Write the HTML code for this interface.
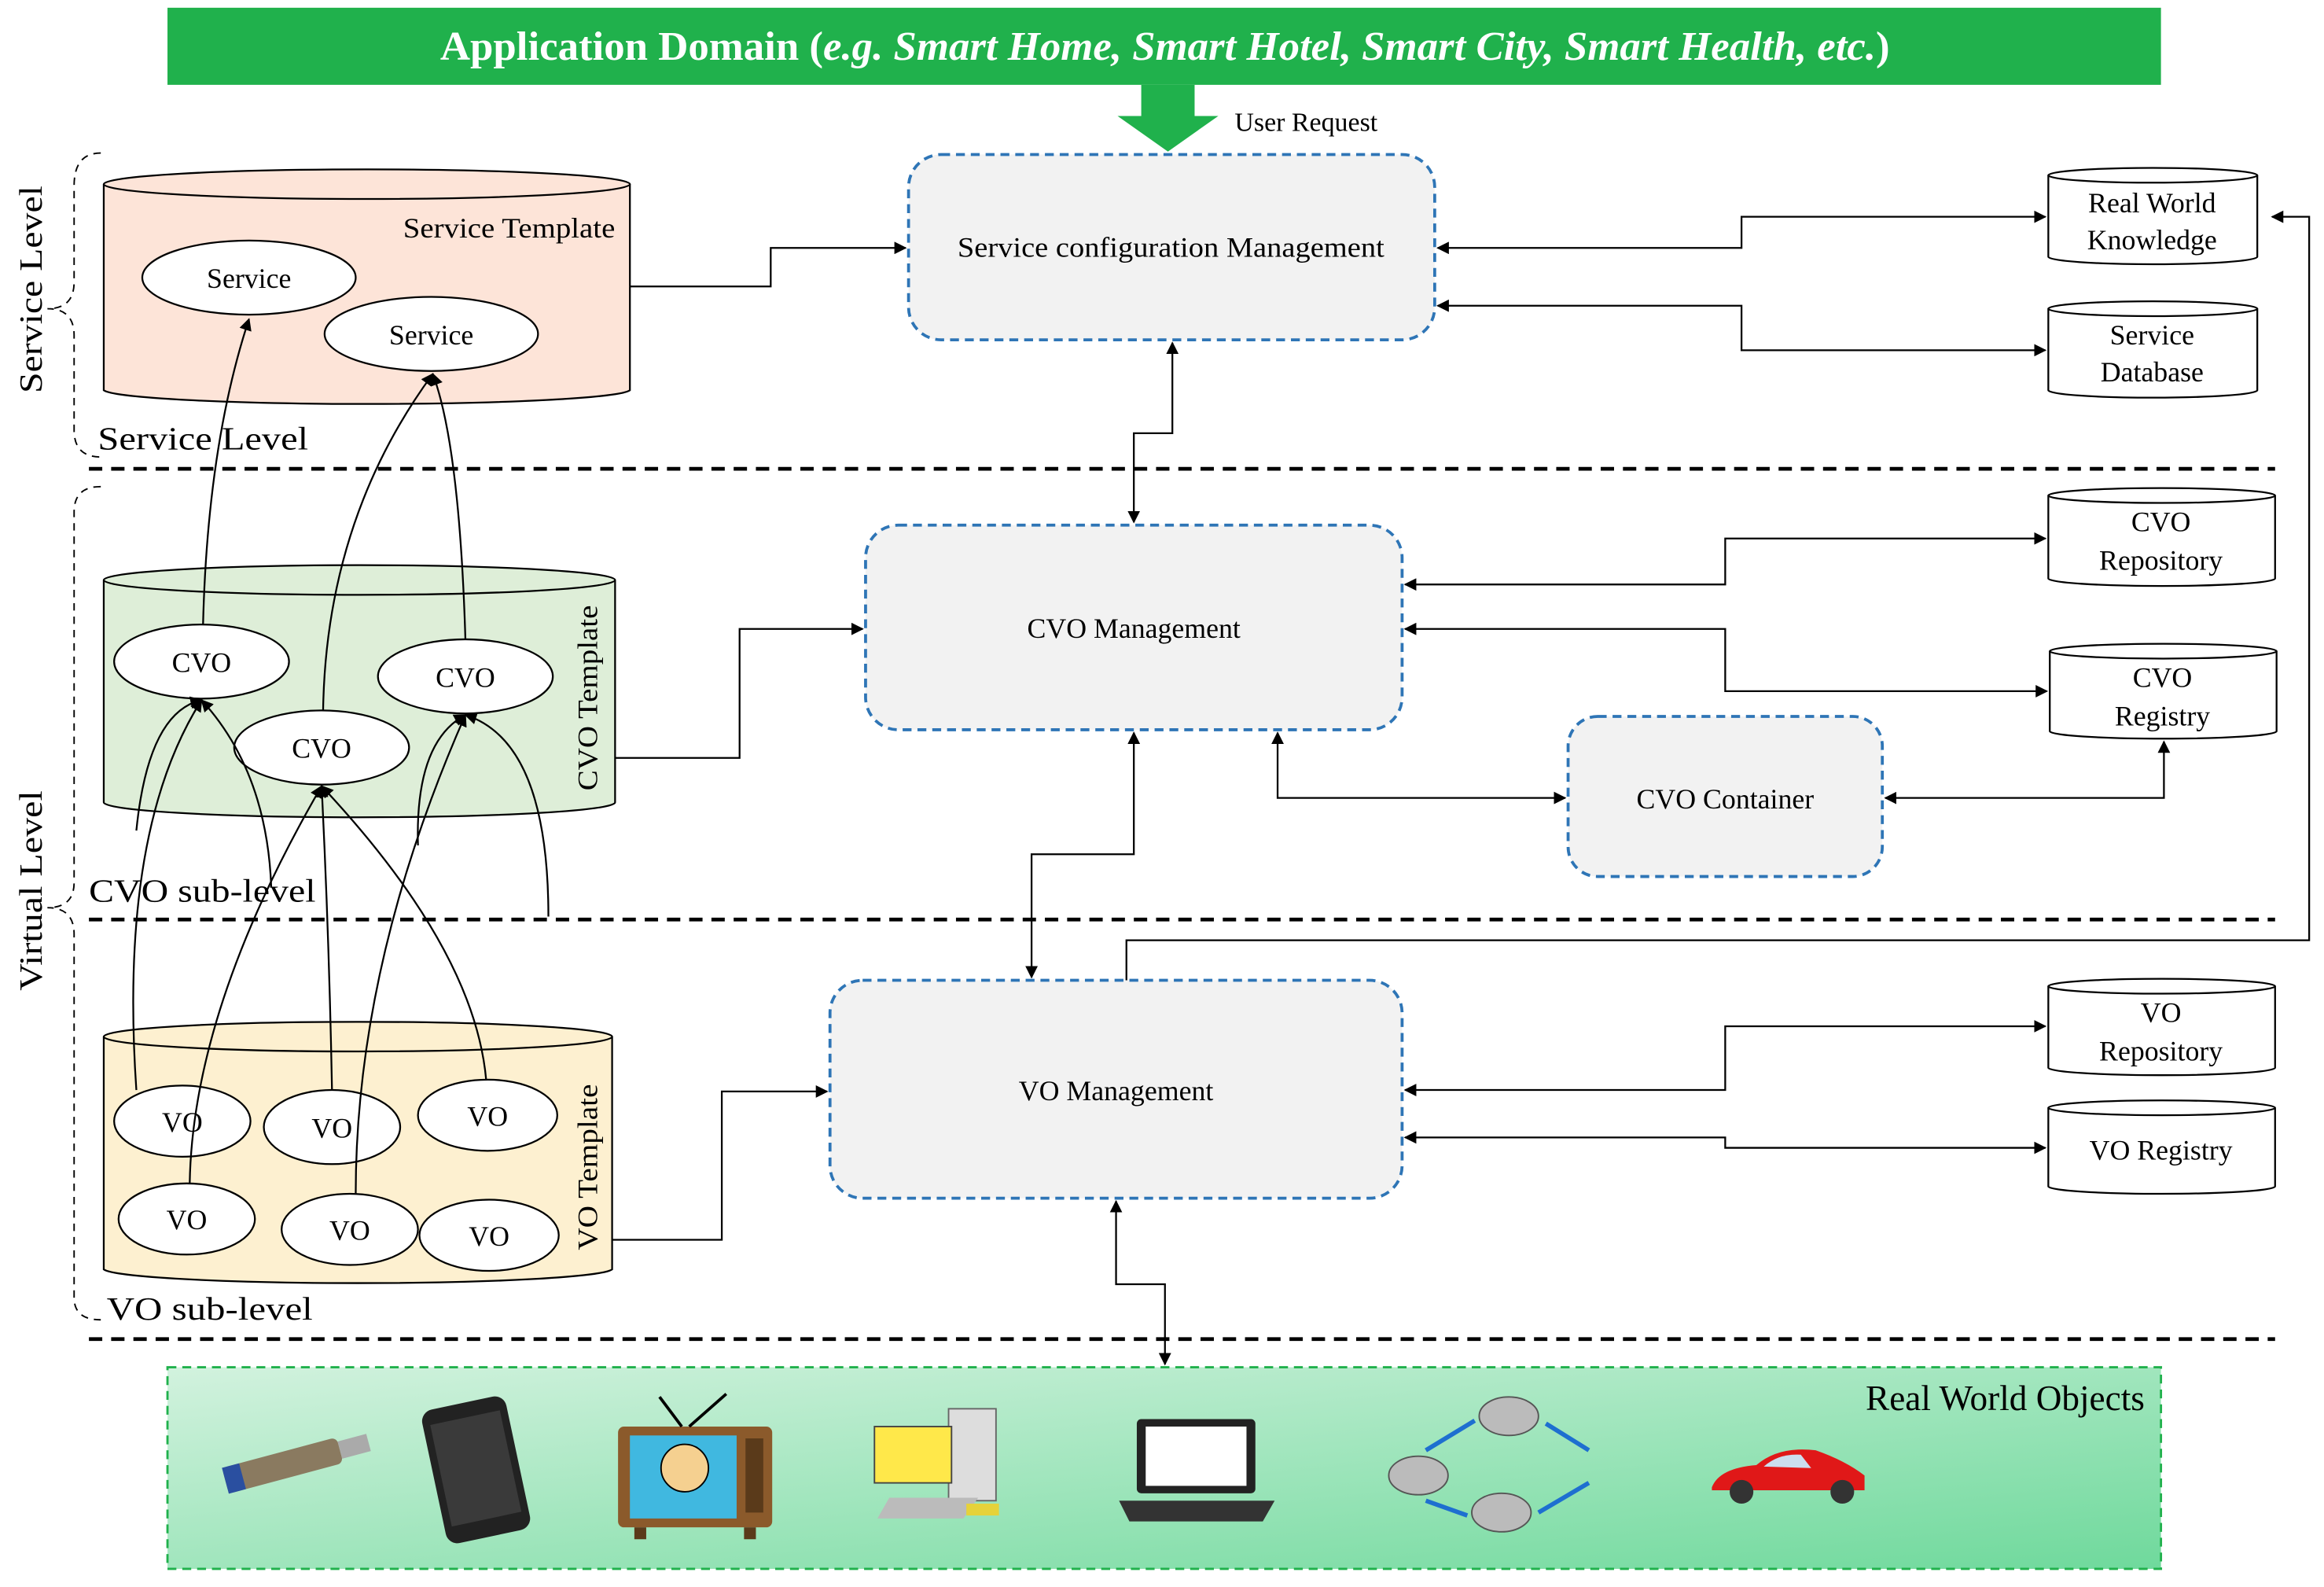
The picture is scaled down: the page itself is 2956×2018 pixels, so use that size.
<!DOCTYPE html>
<html><head><meta charset="utf-8"><style>html,body{margin:0;padding:0;background:#fff}svg{display:block}</style></head><body>
<svg width="2956" height="2018" viewBox="0 0 1568 1070" xmlns="http://www.w3.org/2000/svg" font-family="Liberation Serif, serif">
<defs>
<marker id="a" viewBox="0 0 10 10" refX="9" refY="5" markerWidth="7" markerHeight="7" orient="auto-start-reverse"><path d="M0,0 L10,5 L0,10 z" fill="#000"/></marker>
<linearGradient id="g" x1="0" y1="0" x2="1" y2="1"><stop offset="0" stop-color="#d2f2de"/><stop offset="1" stop-color="#6fd99c"/></linearGradient>
</defs>
<rect x="113" y="5" width="1345" height="52" fill="#20b14c"/>
<text x="786" y="40" font-size="27.5" font-weight="bold" fill="#fff" text-anchor="middle" textLength="978" lengthAdjust="spacingAndGlyphs">Application Domain (<tspan font-style="italic">e.g. Smart Home, Smart Hotel, Smart City, Smart Health, etc.</tspan>)</text>
<path d="M770,57 H806 V78 H822 L788,102 L754,78 H770 Z" fill="#20b14c"/>
<text x="833" y="88" font-size="18">User Request</text>
<g stroke="#000" stroke-width="2.5" stroke-dasharray="9,6">
<line x1="60" y1="316" x2="1535" y2="316"/><line x1="60" y1="620" x2="1535" y2="620"/><line x1="60" y1="903" x2="1535" y2="903"/>
</g>
<g fill="none" stroke="#000" stroke-dasharray="5,4" stroke-width="1">
<path d="M68,103 Q50,103 50,125 V190 Q50,208 32,208 Q50,208 50,226 V290 Q50,308 68,308"/>
<path d="M68,328 Q50,328 50,345 V595 Q50,612 32,612 Q50,612 50,630 V875 Q50,890 68,890"/>
</g>
<text transform="translate(28,265) rotate(-90)" font-size="22" textLength="140" lengthAdjust="spacingAndGlyphs">Service Level</text>
<text transform="translate(28,668) rotate(-90)" font-size="22" textLength="135" lengthAdjust="spacingAndGlyphs">Virtual Level</text>
<text x="66" y="303" font-size="22" textLength="142" lengthAdjust="spacingAndGlyphs">Service Level</text>
<text x="60" y="608" font-size="22" textLength="153" lengthAdjust="spacingAndGlyphs">CVO sub-level</text>
<text x="72" y="890" font-size="22" textLength="139" lengthAdjust="spacingAndGlyphs">VO sub-level</text>
<g stroke="#000" stroke-width="1.2">
<path d="M70,124 V263 A178,10 0 0 0 425,263 V124" fill="#fde4d8"/><ellipse cx="247.5" cy="124" rx="177.5" ry="10" fill="#fde4d8"/>
<path d="M70,391 V541 A172,10 0 0 0 415,541 V391" fill="#deeed8"/><ellipse cx="242.5" cy="391" rx="172.5" ry="10" fill="#deeed8"/>
<path d="M70,699 V856 A172,10 0 0 0 413,856 V699" fill="#fdf0d0"/><ellipse cx="241.5" cy="699" rx="171.5" ry="10" fill="#fdf0d0"/>
</g>
<text x="415" y="160" font-size="19" text-anchor="end" textLength="143" lengthAdjust="spacingAndGlyphs">Service Template</text>
<text transform="translate(403,533) rotate(-90)" font-size="19" textLength="125" lengthAdjust="spacingAndGlyphs">CVO Template</text>
<text transform="translate(403,843) rotate(-90)" font-size="19" textLength="112" lengthAdjust="spacingAndGlyphs">VO Template</text>
<g fill="#fff" stroke="#000" stroke-width="1.2">
<ellipse cx="168" cy="187" rx="72" ry="25"/><ellipse cx="291" cy="225" rx="72" ry="25"/>
<ellipse cx="136" cy="446" rx="59" ry="25"/><ellipse cx="217" cy="504" rx="59" ry="25"/><ellipse cx="314" cy="456" rx="59" ry="25"/>
<ellipse cx="123" cy="756" rx="46" ry="24"/><ellipse cx="224" cy="760" rx="46" ry="25"/><ellipse cx="329" cy="752" rx="47" ry="24"/>
<ellipse cx="126" cy="822" rx="46" ry="24"/><ellipse cx="236" cy="829" rx="46" ry="24"/><ellipse cx="330" cy="833" rx="47" ry="24"/>
</g>
<g font-size="19" text-anchor="middle">
<text x="168" y="194">Service</text><text x="291" y="232">Service</text>
<text x="136" y="453">CVO</text><text x="217" y="511">CVO</text><text x="314" y="463">CVO</text>
<text x="123" y="763">VO</text><text x="224" y="767">VO</text><text x="329" y="759">VO</text>
<text x="126" y="829">VO</text><text x="236" y="836">VO</text><text x="330" y="840">VO</text>
</g>
<g fill="none" stroke="#000" stroke-width="1.2" marker-end="url(#a)">
<path d="M137,421 Q140,300 168,215"/>
<path d="M314,431 Q310,300 292,252"/>
<path d="M218,479 Q220,350 292,252"/>
<path d="M92,735 Q80,560 136,472"/>
<path d="M92,560 Q100,480 136,472"/>
<path d="M183,598 Q180,520 136,472"/>
<path d="M128,798 Q130,680 217,530"/>
<path d="M224,735 Q222,630 217,530"/>
<path d="M328,728 Q320,640 217,530"/>
<path d="M240,805 Q240,650 314,482"/>
<path d="M282,570 Q280,500 314,482"/>
<path d="M370,618 Q370,500 314,482"/>
</g>
<g fill="#f2f2f2" stroke="#2e75b6" stroke-width="2" stroke-dasharray="6,4">
<rect x="613" y="104" width="355" height="125" rx="22"/>
<rect x="584" y="354" width="362" height="138" rx="22"/>
<rect x="1058" y="483" width="212" height="108" rx="20"/>
<rect x="560" y="661" width="386" height="147" rx="22"/>
</g>
<g font-size="19" text-anchor="middle">
<text x="790" y="173" textLength="288" lengthAdjust="spacingAndGlyphs">Service configuration Management</text>
<text x="765" y="430">CVO Management</text>
<text x="1164" y="545">CVO Container</text>
<text x="753" y="742">VO Management</text>
</g>
<g stroke="#000" stroke-width="1.2" fill="#fff">
<path d="M1382,118 V173 A70.5,5 0 0 0 1523,173 V118"/><ellipse cx="1452.5" cy="118" rx="70.5" ry="5"/>
<path d="M1382,208 V263 A70.5,5 0 0 0 1523,263 V208"/><ellipse cx="1452.5" cy="208" rx="70.5" ry="5"/>
<path d="M1382,334 V390 A76.5,5 0 0 0 1535,390 V334"/><ellipse cx="1458.5" cy="334" rx="76.5" ry="5"/>
<path d="M1383,439 V493 A76.5,5 0 0 0 1536,493 V439"/><ellipse cx="1459.5" cy="439" rx="76.5" ry="5"/>
<path d="M1382,665 V720 A76.5,5 0 0 0 1535,720 V665"/><ellipse cx="1458.5" cy="665" rx="76.5" ry="5"/>
<path d="M1382,747 V800 A76.5,5 0 0 0 1535,800 V747"/><ellipse cx="1458.5" cy="747" rx="76.5" ry="5"/>
</g>
<g font-size="19" text-anchor="middle">
<text x="1452" y="143">Real World</text><text x="1452" y="168">Knowledge</text>
<text x="1452" y="232">Service</text><text x="1452" y="257">Database</text>
<text x="1458" y="358">CVO</text><text x="1458" y="384">Repository</text>
<text x="1459" y="463">CVO</text><text x="1459" y="489">Registry</text>
<text x="1458" y="689">VO</text><text x="1458" y="715">Repository</text>
<text x="1458" y="782">VO Registry</text>
</g>
<g fill="none" stroke="#000" stroke-width="1.2">
<path d="M425,193 H520 V167 H611" marker-end="url(#a)"/>
<path d="M415,511 H499 V424 H582" marker-end="url(#a)"/>
<path d="M413,836 H487 V736 H558" marker-end="url(#a)"/>
<path d="M970,167 H1175 V146 H1380" marker-start="url(#a)" marker-end="url(#a)"/>
<path d="M970,206 H1175 V236 H1380" marker-start="url(#a)" marker-end="url(#a)"/>
<path d="M791,231 V292 H765 V352" marker-start="url(#a)" marker-end="url(#a)"/>
<path d="M948,394 H1164 V363 H1380" marker-start="url(#a)" marker-end="url(#a)"/>
<path d="M948,424 H1164 V466 H1381" marker-start="url(#a)" marker-end="url(#a)"/>
<path d="M862,494 V538 H1056" marker-start="url(#a)" marker-end="url(#a)"/>
<path d="M1272,538 H1460 V500" marker-start="url(#a)" marker-end="url(#a)"/>
<path d="M765,494 V576 H696 V659" marker-start="url(#a)" marker-end="url(#a)"/>
<path d="M760,661 V634 H1558 V146 H1533" marker-end="url(#a)"/>
<path d="M948,735 H1164 V692 H1380" marker-start="url(#a)" marker-end="url(#a)"/>
<path d="M948,767 H1164 V774 H1380" marker-start="url(#a)" marker-end="url(#a)"/>
<path d="M753,810 V866 H786 V920" marker-start="url(#a)" marker-end="url(#a)"/>
</g>
<rect x="113" y="922" width="1345" height="136" fill="url(#g)" stroke="#20b14c" stroke-width="1.5" stroke-dasharray="6,4"/>
<text x="1447" y="951" font-size="24" text-anchor="end">Real World Objects</text>
<g transform="rotate(-15 195 985)"><rect x="150" y="978" width="80" height="18" rx="4" fill="#8a7a60"/><rect x="150" y="978" width="12" height="18" fill="#2a4fa0"/><rect x="230" y="981" width="20" height="12" fill="#aaa"/></g>
<g transform="rotate(-12 322 990)"><rect x="292" y="945" width="58" height="92" rx="8" fill="#222"/><rect x="297" y="955" width="48" height="70" fill="#3a3a3a"/></g>
<rect x="417" y="962" width="104" height="68" rx="4" fill="#8b5a2b"/><rect x="425" y="968" width="72" height="56" fill="#40b8e0"/><circle cx="462" cy="990" r="16" fill="#f5d090" stroke="#000"/><line x1="460" y1="962" x2="445" y2="942" stroke="#000" stroke-width="2"/><line x1="465" y1="962" x2="490" y2="940" stroke="#000" stroke-width="2"/><rect x="503" y="970" width="12" height="50" fill="#5a3a1a"/><rect x="428" y="1030" width="8" height="8" fill="#5a3a1a"/><rect x="502" y="1030" width="8" height="8" fill="#5a3a1a"/>
<rect x="640" y="950" width="32" height="62" fill="#ddd" stroke="#666"/><rect x="590" y="962" width="52" height="38" fill="#ffe84a" stroke="#444"/><path d="M600,1010 H660 L650,1024 H592 Z" fill="#bbb"/><rect x="652" y="1014" width="22" height="8" fill="#e6d23a"/>
<rect x="767" y="957" width="80" height="50" rx="3" fill="#222"/><rect x="773" y="962" width="68" height="40" fill="#fff"/><path d="M755,1012 H860 L852,1026 H762 Z" fill="#333"/>
<g fill="#bbb" stroke="#555"><ellipse cx="1018" cy="955" rx="20" ry="13"/><ellipse cx="957" cy="995" rx="20" ry="13"/><ellipse cx="1013" cy="1020" rx="20" ry="13"/></g>
<g stroke="#1e6fd0" stroke-width="3" fill="none"><line x1="962" y1="978" x2="995" y2="958"/><line x1="1043" y1="960" x2="1072" y2="978"/><line x1="1072" y1="1000" x2="1038" y2="1020"/><line x1="962" y1="1012" x2="990" y2="1022"/></g>
<path d="M1155,1003 Q1160,990 1185,988 Q1200,975 1225,978 Q1245,985 1258,995 V1005 H1155 Z" fill="#e01818"/><path d="M1190,989 Q1200,980 1215,981 L1222,990 Z" fill="#cde"/><circle cx="1175" cy="1006" r="8" fill="#333"/><circle cx="1243" cy="1006" r="8" fill="#333"/>
</svg>
</body></html>
